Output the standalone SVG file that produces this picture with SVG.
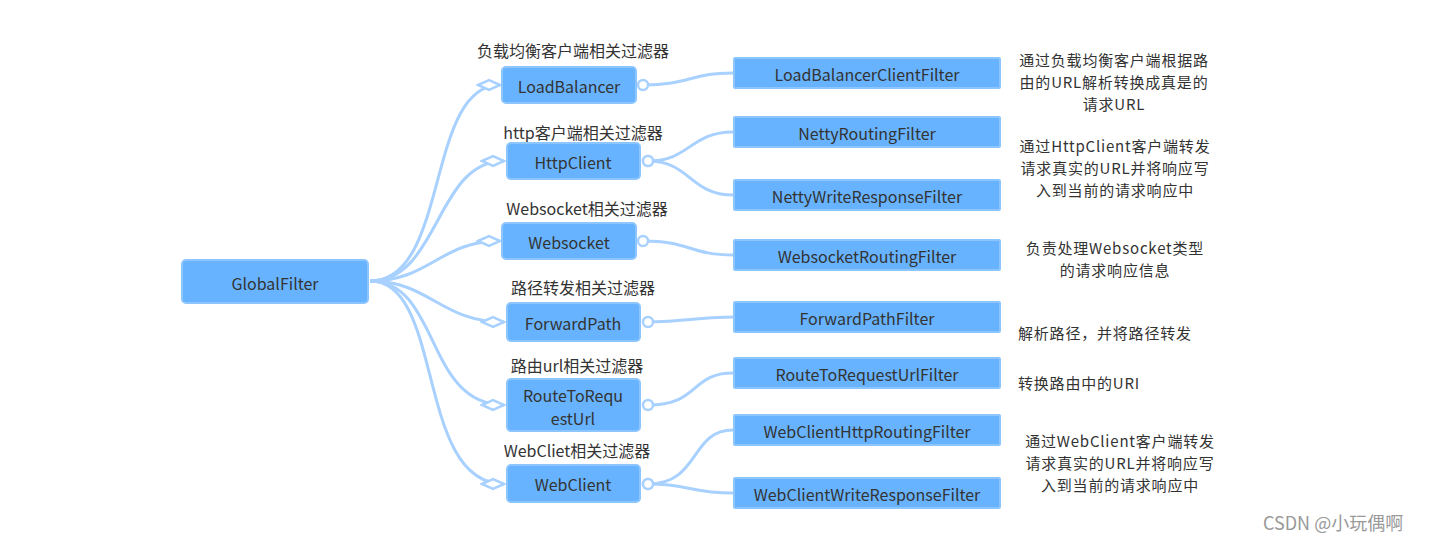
<svg xmlns="http://www.w3.org/2000/svg" width="1429" height="541" viewBox="0 0 1429 541">
<style>
text{font-family:"Noto Sans CJK SC","Noto Sans",sans-serif;fill:#333;}
.box{fill:#67b3ff;stroke:#8dc6ff;stroke-width:2;}
.t{font-size:16px;text-anchor:middle;dominant-baseline:central;}
.lbl{font-size:16px;text-anchor:middle;dominant-baseline:central;}
.d{font-size:15px;letter-spacing:0.8px;text-anchor:middle;dominant-baseline:central;}
.dl{font-size:15px;letter-spacing:0.8px;text-anchor:start;dominant-baseline:central;}
.c{fill:none;stroke:#a8d1ff;stroke-width:3;}
</style>
<defs>
<marker id="dia" markerUnits="userSpaceOnUse" markerWidth="26" markerHeight="14" viewBox="-2 -7 26 14" refX="22" refY="0" orient="auto">
<polygon points="0,0 11,-5 22,0 11,5" fill="#fff" stroke="#a8d1ff" stroke-width="2.5"/>
</marker>
<marker id="cir" markerUnits="userSpaceOnUse" markerWidth="16" markerHeight="16" viewBox="-8 -8 16 16" refX="0" refY="0" orient="auto">
<circle cx="0" cy="0" r="5" fill="#fff" stroke="#a8d1ff" stroke-width="2.5"/>
</marker>
</defs>
<rect width="1429" height="541" fill="#fff"/>
<g id="connectors">
<path class="c" marker-end="url(#dia)" d="M370,281 C450,281 425,85 500,85"/>
<path class="c" marker-end="url(#dia)" d="M370,281 C440,281 435,161 504,161"/>
<path class="c" marker-end="url(#dia)" d="M370,281 C430,281 440,241 500,241"/>
<path class="c" marker-end="url(#dia)" d="M370,281 C430,281 440,322 504,322"/>
<path class="c" marker-end="url(#dia)" d="M370,281 C440,281 425,405 504,405"/>
<path class="c" marker-end="url(#dia)" d="M370,281 C445,281 415,484 504,484"/>
<path class="c" marker-start="url(#cir)" d="M643,85 C690,85 690,73 733,73"/>
<path class="c" marker-start="url(#cir)" d="M648,161 C690,161 690,132 733,132"/>
<path class="c" marker-start="url(#cir)" d="M648,161 C690,161 690,195 733,195"/>
<path class="c" marker-start="url(#cir)" d="M643,241 C690,241 690,255 733,255"/>
<path class="c" marker-start="url(#cir)" d="M648,322 C690,322 690,317 733,317"/>
<path class="c" marker-start="url(#cir)" d="M648,405 C700,405 690,373 733,373"/>
<path class="c" marker-start="url(#cir)" d="M648,484 C700,484 690,430 733,430"/>
<path class="c" marker-start="url(#cir)" d="M648,484 C690,484 690,493 733,493"/>
</g>
<g id="GlobalFilter">
<rect class="box" x="182" y="260" width="186" height="43" rx="4"/>
<text class="t" x="275" y="283">GlobalFilter</text>
</g>
<g id="LoadBalancer">
<text class="lbl" x="573" y="50">负载均衡客户端相关过滤器</text>
<rect class="box" x="502" y="67" width="134" height="36" rx="4"/>
<text class="t" x="569" y="86">LoadBalancer</text>
</g>
<g id="HttpClient">
<text class="lbl" x="583" y="132">http客户端相关过滤器</text>
<rect class="box" x="507" y="143" width="133" height="36" rx="4"/>
<text class="t" x="573" y="162">HttpClient</text>
</g>
<g id="Websocket">
<text class="lbl" x="587" y="208">Websocket相关过滤器</text>
<rect class="box" x="502" y="223" width="134" height="36" rx="4"/>
<text class="t" x="569" y="242">Websocket</text>
</g>
<g id="ForwardPath">
<text class="lbl" x="583" y="287">路径转发相关过滤器</text>
<rect class="box" x="507" y="303" width="133" height="38" rx="4"/>
<text class="t" x="573" y="323">ForwardPath</text>
</g>
<g id="RouteToRequestUrl">
<text class="lbl" x="577" y="365">路由url相关过滤器</text>
<rect class="box" x="507" y="379" width="133" height="52" rx="4"/>
<text class="t" x="573" y="395">RouteToRequ</text>
<text class="t" x="573" y="418">estUrl</text>
</g>
<g id="WebClient">
<text class="lbl" x="577" y="450">WebCliet相关过滤器</text>
<rect class="box" x="507" y="465" width="133" height="37" rx="4"/>
<text class="t" x="573" y="484">WebClient</text>
</g>
<g id="LoadBalancerClientFilter">
<rect class="box" x="734" y="58" width="266" height="30" rx="1"/>
<text class="t" x="867" y="74">LoadBalancerClientFilter</text>
</g>
<g id="NettyRoutingFilter">
<rect class="box" x="734" y="117" width="266" height="30" rx="1"/>
<text class="t" x="867" y="133">NettyRoutingFilter</text>
</g>
<g id="NettyWriteResponseFilter">
<rect class="box" x="734" y="180" width="266" height="30" rx="1"/>
<text class="t" x="867" y="196">NettyWriteResponseFilter</text>
</g>
<g id="WebsocketRoutingFilter">
<rect class="box" x="734" y="240" width="266" height="30" rx="1"/>
<text class="t" x="867" y="256">WebsocketRoutingFilter</text>
</g>
<g id="ForwardPathFilter">
<rect class="box" x="734" y="302" width="266" height="30" rx="1"/>
<text class="t" x="867" y="318">ForwardPathFilter</text>
</g>
<g id="RouteToRequestUrlFilter">
<rect class="box" x="734" y="358" width="266" height="30" rx="1"/>
<text class="t" x="867" y="374">RouteToRequestUrlFilter</text>
</g>
<g id="WebClientHttpRoutingFilter">
<rect class="box" x="734" y="415" width="266" height="30" rx="1"/>
<text class="t" x="867" y="431">WebClientHttpRoutingFilter</text>
</g>
<g id="WebClientWriteResponseFilter">
<rect class="box" x="734" y="478" width="266" height="30" rx="1"/>
<text class="t" x="867" y="494">WebClientWriteResponseFilter</text>
</g>
<g id="descriptions">
<text class="d" x="1114" y="59">通过负载均衡客户端根据路</text>
<text class="d" x="1114" y="81">由的URL解析转换成真是的</text>
<text class="d" x="1114" y="103">请求URL</text>
<text class="d" x="1115" y="145">通过HttpClient客户端转发</text>
<text class="d" x="1115" y="167">请求真实的URL并将响应写</text>
<text class="d" x="1115" y="189">入到当前的请求响应中</text>
<text class="d" x="1115" y="247">负责处理Websocket类型</text>
<text class="d" x="1115" y="269">的请求响应信息</text>
<text class="dl" x="1018" y="332">解析路径，并将路径转发</text>
<text class="dl" x="1018" y="382">转换路由中的URI</text>
<text class="d" x="1120" y="440">通过WebClient客户端转发</text>
<text class="d" x="1120" y="462">请求真实的URL并将响应写</text>
<text class="d" x="1120" y="484">入到当前的请求响应中</text>
</g>
<text x="1263" y="522" style="font-size:18px;fill:#999;dominant-baseline:central;">CSDN @小玩偶啊</text>
</svg>
